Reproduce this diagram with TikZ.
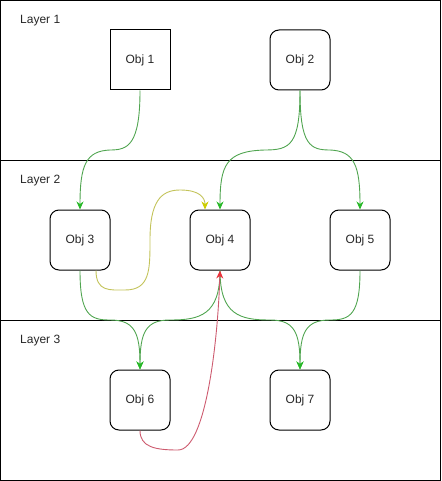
\documentclass[tikz,border=0pt]{standalone}
\usepackage{fontspec}
\setmainfont{Liberation Sans}
\usetikzlibrary{arrows.meta}
\definecolor{edgegreen}{RGB}{80,165,80}
\definecolor{tipgreen}{RGB}{40,185,40}
\definecolor{edgeyellow}{RGB}{195,195,90}
\definecolor{tipyellow}{RGB}{205,205,0}
\definecolor{edgered}{RGB}{205,90,110}
\definecolor{tipred}{RGB}{235,50,60}
\begin{document}
\begin{tikzpicture}[x=1pt,y=-1pt,
  objbox/.style={draw=black,line width=1pt,minimum width=60pt,minimum height=60pt,inner sep=0pt,font=\fontsize{12}{14}\selectfont,text=black!85},
  roundbox/.style={objbox,rounded corners=9pt},
  lane/.style={draw=black,line width=1pt},
  lanelabel/.style={anchor=west,inner sep=0pt,font=\fontsize{12}{14}\selectfont,text=black!85},
  gedge/.style={draw=edgegreen,line width=0.9pt,-{Stealth[length=8pt,width=7pt,inset=2.5pt,color=tipgreen]}},
  yedge/.style={draw=edgeyellow,line width=0.9pt,-{Stealth[length=8pt,width=7pt,inset=2.5pt,color=tipyellow]}},
  redge/.style={draw=edgered,line width=0.9pt,-{Stealth[length=8pt,width=7pt,inset=2.5pt,color=tipred]}}]
\useasboundingbox (0,0) rectangle (441,481);
\draw[lane] (0.5,0.5) rectangle (440.5,160);
\draw[lane] (0.5,160) rectangle (440.5,320);
\draw[lane] (0.5,320) rectangle (440.5,480.5);
\node[lanelabel] (l1) at (20,21) {Layer 1};
\node[lanelabel] (l2) at (20,181) {Layer 2};
\node[lanelabel] (l3) at (20,341) {Layer 3};
\node[objbox] (o1) at (140,60) {Obj 1};
\node[roundbox] (o2) at (300,60) {Obj 2};
\node[roundbox] (o3) at (80,240) {Obj 3};
\node[roundbox] (o4) at (220,240) {Obj 4};
\node[roundbox] (o5) at (360,240) {Obj 5};
\node[roundbox] (o6) at (140,400) {Obj 6};
\node[roundbox] (o7) at (300,400) {Obj 7};
% layer 1 -> layer 2
\draw[gedge] (o1.south) .. controls (140,145) and (128,150) .. (110,150) .. controls (86,151) and (80,165) .. (o3.north);
\draw[gedge] (o2.south) .. controls (300,145) and (290,150) .. (265,150) .. controls (226,151) and (220,165) .. (o4.north);
\draw[gedge] (o2.south) .. controls (300,145) and (310,150) .. (330,150) .. controls (354,151) and (360,165) .. (o5.north);
% yellow
\draw[yedge] ([xshift=16pt]o3.south) .. controls (96,292) and (110,290) .. (125,290) .. controls (150,290) and (150,270) .. (150,240) .. controls (150,203) and (160,190) .. (180,190) .. controls (200,190) and (205,198) .. ([xshift=-15pt]o4.north);
% layer 2 -> layer 3
\draw[gedge] (o3.south) .. controls (80,315) and (90,320) .. (110,320) .. controls (134,320) and (140,332) .. (o6.north);
\draw[gedge] (o4.south) .. controls (220,315) and (200,320) .. (170,320) .. controls (146,320) and (140,332) .. (o6.north);
\draw[gedge] (o4.south) .. controls (220,315) and (240,320) .. (270,320) .. controls (294,320) and (300,332) .. (o7.north);
\draw[gedge] (o5.south) .. controls (360,315) and (350,320) .. (330,320) .. controls (306,320) and (300,332) .. (o7.north);
% red
\draw[redge] (o6.south) .. controls (140,447) and (155,450) .. (178,450) .. controls (206,450) and (218,340) .. (o4.south);
\end{tikzpicture}
\end{document}
